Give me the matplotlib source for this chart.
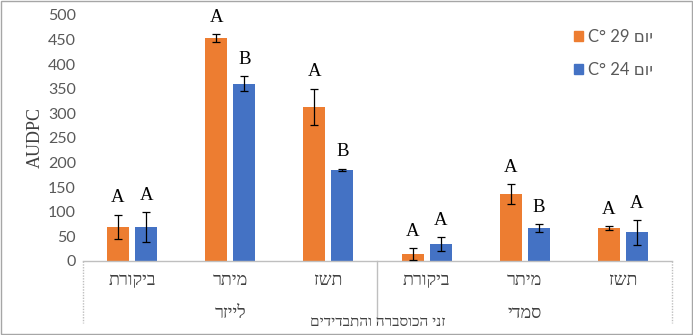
import matplotlib
matplotlib.use("Agg")
import matplotlib.pyplot as plt
from matplotlib.patches import Patch, Rectangle
import numpy as np

# data (hebrew written in logical order, reversed for drawing)
categories = ["ביקורת", "מיתר", "תשז", "ביקורת", "מיתר", "תשז"]
groups = ["לייזר", "סמדי"]
hot_vals = [69, 453, 313, 14, 136, 67]
hot_err = [25, 8, 37, 12, 20, 4]
cool_vals = [69, 360, 185, 34, 67, 58]
cool_err = [30, 15, 3, 14, 8, 25]
hot_letters = ["A", "A", "A", "A", "A", "A"]
cool_letters = ["A", "B", "B", "A", "B", "A"]
series_days = ["29", "24"]
x_title = "זני הכוסברה והתבדידים"
y_title = "AUDPC"


def vis(s):
    # matplotlib has no bidi, so flip the hebrew text
    return s[::-1]


orange = "#ED7D31"
blue = "#4472C4"
grey_txt = "#595959"
serif = ["Liberation Serif", "DejaVu Serif"]
sans = ["Lato", "DejaVu Sans"]

fig = plt.figure(figsize=(6.93, 3.35), dpi=100)
ax = fig.add_axes([83 / 693, 74 / 335, 589 / 693, 246 / 335])

x = np.arange(len(categories))
w = 0.225
off = 0.143
ax.bar(x - off, hot_vals, w, color=orange, zorder=2)
ax.bar(x + off, cool_vals, w, color=blue, zorder=2)
ax.errorbar(x - off, hot_vals, yerr=hot_err, fmt="none", ecolor="black",
            elinewidth=0.9, capsize=3, capthick=0.9, zorder=3)
ax.errorbar(x + off, cool_vals, yerr=cool_err, fmt="none", ecolor="black",
            elinewidth=0.9, capsize=3, capthick=0.9, zorder=3)

for xs, vals, errs, letters in [(x - off, hot_vals, hot_err, hot_letters),
                                (x + off, cool_vals, cool_err, cool_letters)]:
    for xi, v, e, t in zip(xs, vals, errs, letters):
        ax.annotate(t, (xi, v + e), xytext=(0, 6), textcoords="offset points",
                    ha="center", va="bottom", fontsize=13.5, family=serif,
                    color="black")

ax.set_xlim(-0.5, len(categories) - 0.5)
ax.set_ylim(0, 500)
ax.set_yticks(np.arange(0, 501, 50))
ax.tick_params(axis="y", length=0, labelsize=11.5, labelcolor=grey_txt, pad=5)
for lab in ax.get_yticklabels():
    lab.set_family(sans)
ax.set_xticks([])
for side in ["left", "right", "top"]:
    ax.spines[side].set_visible(False)
ax.spines["bottom"].set_color("#bfbfbf")
ax.spines["bottom"].set_linestyle((0, (1, 1)))
ax.spines["bottom"].set_linewidth(1)

ax.set_ylabel(y_title, fontsize=13, family=serif, color="#404040", labelpad=3)

# two level category axis
trans = ax.get_xaxis_transform()
for xi, c in zip(x, categories):
    ax.text(xi, -0.08, vis(c), transform=trans, ha="center", va="center",
            fontsize=13, family=serif, color="#404040")
n_per = len(categories) // len(groups)
for gi, g in enumerate(groups):
    cx = gi * n_per + (n_per - 1) / 2
    ax.text(cx, -0.215, vis(g), transform=trans, ha="center", va="center",
            fontsize=13, family=serif, color="#404040")
ax.plot([-0.5, -0.5], [0, -0.25], transform=trans, clip_on=False,
        color="#bfbfbf", lw=1, ls=(0, (1, 1)))
ax.plot([5.5, 5.5], [0, -0.25], transform=trans, clip_on=False,
        color="#bfbfbf", lw=1, ls=(0, (1, 1)))
ax.plot([2.5, 2.5], [0, -0.25], transform=trans, clip_on=False,
        color="#bfbfbf", lw=1)
ax.text(2.5, -0.25, vis(x_title), transform=trans, ha="center", va="center",
        fontsize=11, family=serif, color="#404040")

handles = [Patch(color=orange), Patch(color=blue)]
labels = ["C° " + d + " " + vis("יום") for d in series_days]
leg = fig.legend(handles, labels, loc="upper right",
                 bbox_to_anchor=(668 / 693, 1 - 14 / 335), frameon=False,
                 handlelength=0.55, handleheight=0.55, handletextpad=0.3,
                 labelspacing=1.0, prop={"family": sans, "size": 12})
for t in leg.get_texts():
    t.set_color(grey_txt)

fig.patches.append(Rectangle((0.001, 0.002), 0.997, 0.995, transform=fig.transFigure,
                             fill=False, edgecolor="#a6a6a6", lw=1))

fig.savefig("out.png", dpi=100)
